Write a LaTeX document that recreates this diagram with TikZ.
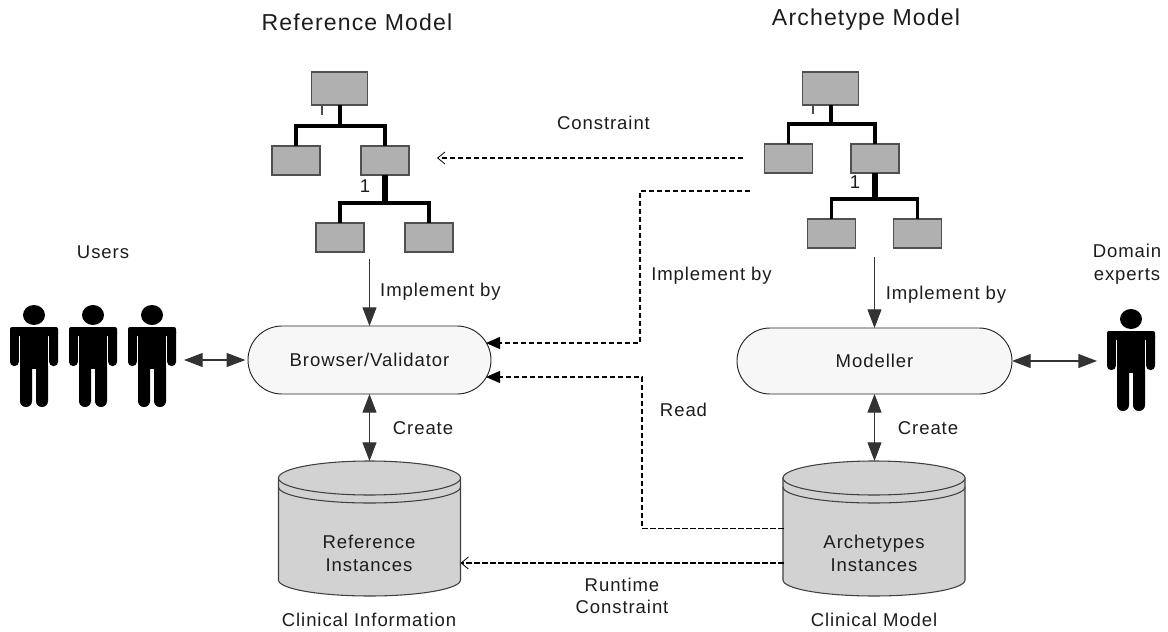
\documentclass[tikz,border=0pt]{standalone}
\usepackage{fontspec}
\setmainfont{Liberation Sans}[LetterSpace=5]
\usetikzlibrary{arrows.meta,calc,shapes.misc}
\definecolor{boxgray}{HTML}{B0B0B0}
\definecolor{boxline}{HTML}{505050}
\definecolor{cylgray}{HTML}{D2D2D2}
\definecolor{pillfill}{HTML}{F7F7F7}
\definecolor{txt}{HTML}{1C1C1C}
\tikzset{
  x=0.75pt,y=-0.75pt,
  every node/.style={text=txt,font=\fontsize{13.9pt}{17pt}\selectfont,inner sep=0pt,outer sep=0pt},
  lbl/.style={align=center},
  ttl/.style={font=\fontsize{17.3pt}{20pt}\selectfont},
  smallbox/.style={draw=boxline,fill=boxgray,line width=0.9pt,minimum width=36pt,minimum height=21.75pt},
  rootbox/.style={draw=boxline,fill=boxgray,line width=0.9pt,minimum width=41.5pt,minimum height=24.75pt},
  bus/.style={line width=2.6pt,black},
  stemA/.style={line width=3pt,black},
  stemB/.style={line width=3.8pt,black},
  pill/.style={rounded rectangle,draw=black!85,fill=pillfill,line width=0.7pt,align=center},
  cylspace/.style={minimum width=136.5pt,minimum height=101.25pt},
  solid arrow/.style={-{Triangle[length=14pt,width=10.5pt]},line width=0.8pt,draw=black!80},
  both arrow/.style={{Triangle[length=14pt,width=10.5pt]}-{Triangle[length=14pt,width=10.5pt]},line width=0.8pt,draw=black!80},
  dash line/.style={line width=1pt,black,dash pattern=on 3.9pt off 2.1pt},
  dash filled/.style={dash line,-{Triangle[length=10.5pt,width=9pt,sep=0pt]}},
  dash open/.style={dash line,-{Straight Barb[length=5.5pt,width=9pt,line width=0.6pt]}},
  cyl/.style={draw=black!75,fill=cylgray,line width=0.8pt},
  figure/.pic={
    \fill (0,-37) ellipse [x radius=11,y radius=10];
    \fill[rounded corners=1.5pt] (-24,-25) rectangle (24,-16);
    \fill[rounded corners=3pt] (-24,-24) rectangle (-15.2,14);
    \fill[rounded corners=3pt] (15.2,-24) rectangle (24,14);
    \fill (-14,-25) rectangle (14,17);
    \fill[rounded corners=4.4pt] (-14,8) rectangle (-2,55);
    \fill[rounded corners=4.4pt] (2,8) rectangle (14,55);
    \fill (-14,-2) rectangle (14,13);
  }
}
\newcommand{\cylbody}[1]{%
  \filldraw[cyl] (#1-91,478) -- (#1-91,580) arc [start angle=180,end angle=0,x radius=91,y radius=16] -- (#1+91,478) -- cycle;
  \draw[cyl,fill=none] (#1-91,487) arc [start angle=180,end angle=0,x radius=91,y radius=16];
  \filldraw[cyl] (#1,478) ellipse [x radius=91,y radius=17];
}
\begin{document}
\begin{tikzpicture}
\useasboundingbox (0,0) rectangle (1168,632);
% titles
\node[ttl] (tRef) at (357,22.5) {Reference Model};
\node[ttl] (tArc) at (866,20) {Archetype Model};
% left tree
\node[rootbox] (rootL) at (339.5,88.5) {};
\node[smallbox] (aL) at (296,160.5) {};
\node[smallbox] (bL) at (385,160.5) {};
\node[smallbox] (cL) at (340,237.5) {};
\node[smallbox] (dL) at (429,237.5) {};
\coordinate (busA) at (340,126);
\coordinate (busB) at (385,203);
\draw[bus] (aL.north) |- (busA) -| (bL.north);
\draw[bus] (cL.north) |- (busB) -| (dL.north);
\draw[stemA] (rootL.south -| busA) -- (busA);
\draw[stemB] (bL.south) -- (busB);
\coordinate (tickLa) at (322,105);
\coordinate (tickLb) at (322,115);
\draw[line width=0.9pt,black!70] (tickLa) -- (tickLb);
\node (oneL) at (365,186) {1};
% right tree
\node[rootbox] (rootR) at (830.5,88.5) {};
\node[smallbox] (aR) at (788.5,158.5) {};
\node[smallbox] (bR) at (875,158.5) {};
\node[smallbox] (cR) at (831.5,233.5) {};
\node[smallbox] (dR) at (917.5,233.5) {};
\coordinate (busC) at (831,124);
\coordinate (busD) at (875,199);
\draw[bus] (aR.north) |- (busC) -| (bR.north);
\draw[bus] (cR.north) |- (busD) -| (dR.north);
\draw[stemA] (rootR.south -| busC) -- (busC);
\draw[stemB] (bR.south) -- (busD);
\coordinate (tickRa) at (813,105);
\coordinate (tickRb) at (813,114);
\draw[line width=0.9pt,black!70] (tickRa) -- (tickRb);
\node (oneR) at (855,182) {1};
% pills
\node[pill,minimum width=182.25pt,minimum height=51pt] (browser) at (369.5,360) {Browser/Validator};
\node[pill,minimum width=206.25pt,minimum height=49.5pt] (modeller) at (874.5,361) {Modeller};
% cylinders
\cylbody{369.5}
\cylbody{874}
\node[cylspace] (cylL) at (369.5,528.5) {};
\node[cylspace] (cylR) at (874.5,528.5) {};
\node[lbl,font=\fontsize{13.9pt}{17.25pt}\selectfont] (refI) at (369,553.5) {Reference\\Instances};
\node[lbl,font=\fontsize{13.9pt}{17.25pt}\selectfont] (arcI) at (874,553.5) {Archetypes\\Instances};
% people
\pic[black] at (34,352) {figure};
\pic[black] at (93,352) {figure};
\pic[black] at (152,352) {figure};
\pic[black] at (1131,356) {figure};
% solid connectors
\coordinate (fromL) at (369.5,259);
\coordinate (fromR) at (874.5,257);
\coordinate (usersEnd) at (184,360);
\coordinate (expertEnd) at (1097,361);
\draw[solid arrow] (fromL) -- (browser.north);
\draw[solid arrow] (fromR) -- (modeller.north);
\draw[both arrow] (browser.south) -- (cylL.north);
\draw[both arrow] (modeller.south) -- (cylR.north);
\draw[both arrow,shorten >=2pt] (usersEnd) -- (browser.west);
\draw[both arrow] (modeller.east) -- (expertEnd);
% dashed connectors
\coordinate (conR) at (743,158);
\coordinate (conL) at (437,158);
\draw[dash open] (conR) -- (conL);
\coordinate (implStart) at (750,191);
\coordinate (implEnd) at (486,343);
\draw[dash filled] (implStart) -| (640,343) -- (implEnd);
\coordinate (readEnd) at (486,377);
\draw[dash filled] (cylR.west) -| (642,377) -- (readEnd);
\draw[dash open] ($(cylR.west)+(0,34.5)$) -- ($(cylL.east)+(0,34.5)$);
% labels
\node (lConstraint) at (603.5,123) {Constraint};
\node (lImplL) at (440.5,292) {Implement by};
\node (lImplM) at (711.5,276) {Implement by};
\node (lImplR) at (946,295) {Implement by};
\node (lCreateL) at (423,428) {Create};
\node (lCreateR) at (928,428) {Create};
\node (lRead) at (683.5,410) {Read};
\node[lbl] (lRuntime) at (622,596) {Runtime\\Constraint};
\node (lClinI) at (369,620) {Clinical Information};
\node (lClinM) at (874,620) {Clinical Model};
\node (lUsers) at (103,252) {Users};
\node[lbl] (lDomain) at (1127,264) {Domain\\experts};
\end{tikzpicture}
\end{document}
